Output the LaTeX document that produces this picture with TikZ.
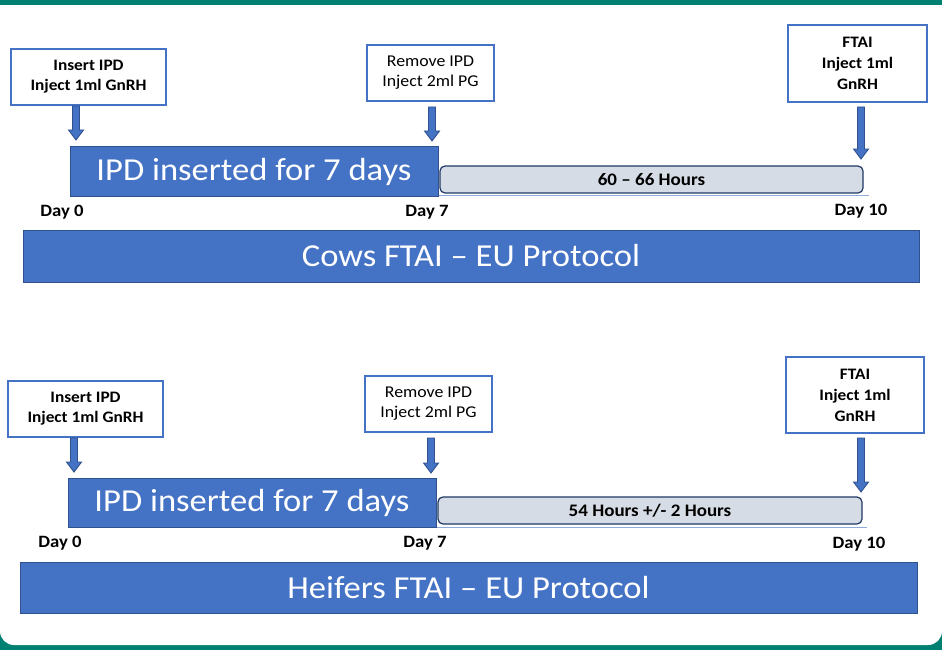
\documentclass[tikz,border=0pt]{standalone}
\usepackage{fontspec}
\setmainfont[FakeStretch=1.08]{Carlito}
\usetikzlibrary{calc}
\definecolor{tealband}{RGB}{0,128,112}
\definecolor{accent}{HTML}{4472C4}
\definecolor{accentdark}{HTML}{2F528F}
\definecolor{graybar}{HTML}{D6DCE5}
\definecolor{navy}{HTML}{1F3864}
\definecolor{lightline}{HTML}{8FAADC}
\newcommand\blockarrow[2]{%
  \draw[blockarr] ($(#1)+(-3.5,0)$) -- ($(#2)+(-3.5,-10)$) -- ($(#2)+(-7.5,-10)$) -- (#2)
    -- ($(#2)+(7.5,-10)$) -- ($(#2)+(3.5,-10)$) -- ($(#1)+(3.5,0)$) -- cycle;}
\begin{document}
\begin{tikzpicture}[x=1pt,y=-1pt,
  eventbox/.style={draw=accent, line width=1.5pt, fill=white, inner sep=0pt, align=center,
    font=\fontsize{16.5}{20}\selectfont},
  boldbox/.style={eventbox, font=\bfseries\fontsize{16}{20}\selectfont},
  bluebar/.style={draw=accentdark, line width=1pt, fill=accent, text=white, inner sep=0pt,
    font=\fontsize{32}{38}\selectfont},
  hoursbar/.style={draw=navy, line width=1.2pt, fill=graybar, rounded corners=5pt, inner sep=0pt,
    font=\bfseries\fontsize{17.6}{20}\selectfont},
  daylabel/.style={inner sep=0pt, font=\bfseries\fontsize{17.3}{20}\selectfont},
  baseline/.style={draw=lightline, line width=1pt},
  blockarr/.style={draw=accentdark, line width=0.9pt, fill=accent}
]
\useasboundingbox (0,0) rectangle (942,650);
\fill[tealband] (0,0) rectangle (942,650);
\fill[white, rounded corners=14pt] (0,-30) rectangle (942,645);
\fill[tealband] (0,0) rectangle (942,5);

% ---------- Panel 1: Cows ----------
\draw[baseline] (70,195.5) -- (869,195.5);
\node[bluebar, minimum width=368pt, minimum height=49pt] (bar1) at (254,171.5) {IPD inserted for 7 days};
\node[hoursbar, minimum width=423pt, minimum height=27pt] (hrs1) at (651.5,179.5) {60 – 66 Hours};
\node[boldbox, minimum width=155pt, minimum height=56pt] (ins1) at (88.5,77) {Insert IPD\\Inject 1ml GnRH};
\node[eventbox, minimum width=127pt, minimum height=56pt] (rem1) at (430.5,73) {Remove IPD\\Inject 2ml PG};
\node[boldbox, font=\bfseries\fontsize{16}{21}\selectfont, minimum width=139pt, minimum height=77pt] (fta1) at (857.5,63.5) {FTAI\\Inject 1ml\\GnRH};
\coordinate (a1s) at (76,106);  \coordinate (a1e) at (76,140);
\coordinate (a2s) at (432,107); \coordinate (a2e) at (432,141);
\coordinate (a3s) at (861,107); \coordinate (a3e) at (861,159);
\blockarrow{a1s}{a1e}
\blockarrow{a2s}{a2e}
\blockarrow{a3s}{a3e}
\node[daylabel] (d01) at (62,212) {Day 0};
\node[daylabel] (d71) at (427,212) {Day 7};
\node[daylabel] (d101) at (861,211) {Day 10};
\node[bluebar, minimum width=896pt, minimum height=52pt] (big1) at (471,256) {Cows FTAI – EU Protocol};

% ---------- Panel 2: Heifers ----------
\draw[baseline] (68,527) -- (867,527);
\node[bluebar, minimum width=368pt, minimum height=49pt] (bar2) at (252,502.5) {IPD inserted for 7 days};
\node[hoursbar, minimum width=424pt, minimum height=27pt] (hrs2) at (650,510.5) {54 Hours +/- 2 Hours};
\node[boldbox, minimum width=155pt, minimum height=56pt] (ins2) at (85.5,409) {Insert IPD\\Inject 1ml GnRH};
\node[eventbox, minimum width=127pt, minimum height=56pt] (rem2) at (428.5,404) {Remove IPD\\Inject 2ml PG};
\node[boldbox, font=\bfseries\fontsize{16}{21}\selectfont, minimum width=138pt, minimum height=76pt] (fta2) at (855,395) {FTAI\\Inject 1ml\\GnRH};
\coordinate (b1s) at (74,438);  \coordinate (b1e) at (74,472);
\coordinate (b2s) at (431,438); \coordinate (b2e) at (431,473);
\coordinate (b3s) at (861,438); \coordinate (b3e) at (861,492);
\blockarrow{b1s}{b1e}
\blockarrow{b2s}{b2e}
\blockarrow{b3s}{b3e}
\node[daylabel] (d02) at (60,543) {Day 0};
\node[daylabel] (d72) at (425,543) {Day 7};
\node[daylabel] (d102) at (859,544) {Day 10};
\node[bluebar, minimum width=897pt, minimum height=51pt] (big2) at (468.5,587.5) {Heifers FTAI – EU Protocol};
\end{tikzpicture}
\end{document}
